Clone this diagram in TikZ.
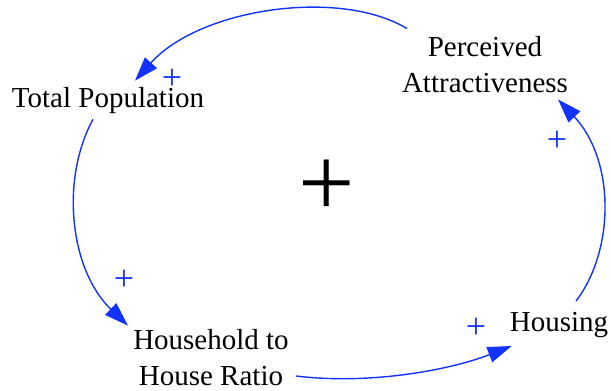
\documentclass[tikz,border=0pt]{standalone}
\usepackage{fontspec}
\setmainfont{Liberation Serif}
\usetikzlibrary{arrows.meta}
\definecolor{lnk}{RGB}{20,50,255}
\begin{document}
\begin{tikzpicture}[x=1pt,y=-1pt,
  var/.style={font=\fontsize{29}{36}\selectfont, align=center, inner sep=0pt, text=black},
  link/.style={draw=lnk, line width=1.4pt, -{Triangle[length=24pt,width=16pt]}},
  pol/.style={text=lnk, font=\fontsize{36}{36}\selectfont, inner sep=0pt},
  loopsign/.style={font=\fontsize{100}{100}\selectfont, inner sep=0pt}]
\useasboundingbox (0,0) rectangle (611,391);
\node[var] (tp) at (108,101) {Total Population};
\node[var] (pa) at (485,65) {Perceived\\Attractiveness};
\node[var] (hh) at (211,358) {Household to\\House Ratio};
\node[var] (ho) at (559,325) {Housing};
\node[loopsign] (loop) at (327,188) {+};

\draw[link] ([xshift=-78pt,yshift=8pt]pa.north) .. controls (340,-12) and (200,8) .. ([xshift=27pt,yshift=7pt]tp.north);
\draw[link] ([xshift=-15pt,yshift=-5pt]tp.south) .. controls (60,180) and (70,270) .. ([xshift=-83pt,yshift=4pt]hh.north);
\draw[link] ([xshift=7pt,yshift=-18pt]hh.east) .. controls (370,385) and (450,370) .. ([xshift=2pt,yshift=-21pt]ho.west);
\draw[link] ([xshift=17pt,yshift=11pt]ho.north) .. controls (615,250) and (615,160) .. ([xshift=73pt,yshift=-6pt]pa.south);

\node[pol] (p1) at (172,79) {+};
\node[pol] (p2) at (124,280) {+};
\node[pol] (p3) at (476,328) {+};
\node[pol] (p4) at (557,141) {+};
\end{tikzpicture}
\end{document}
